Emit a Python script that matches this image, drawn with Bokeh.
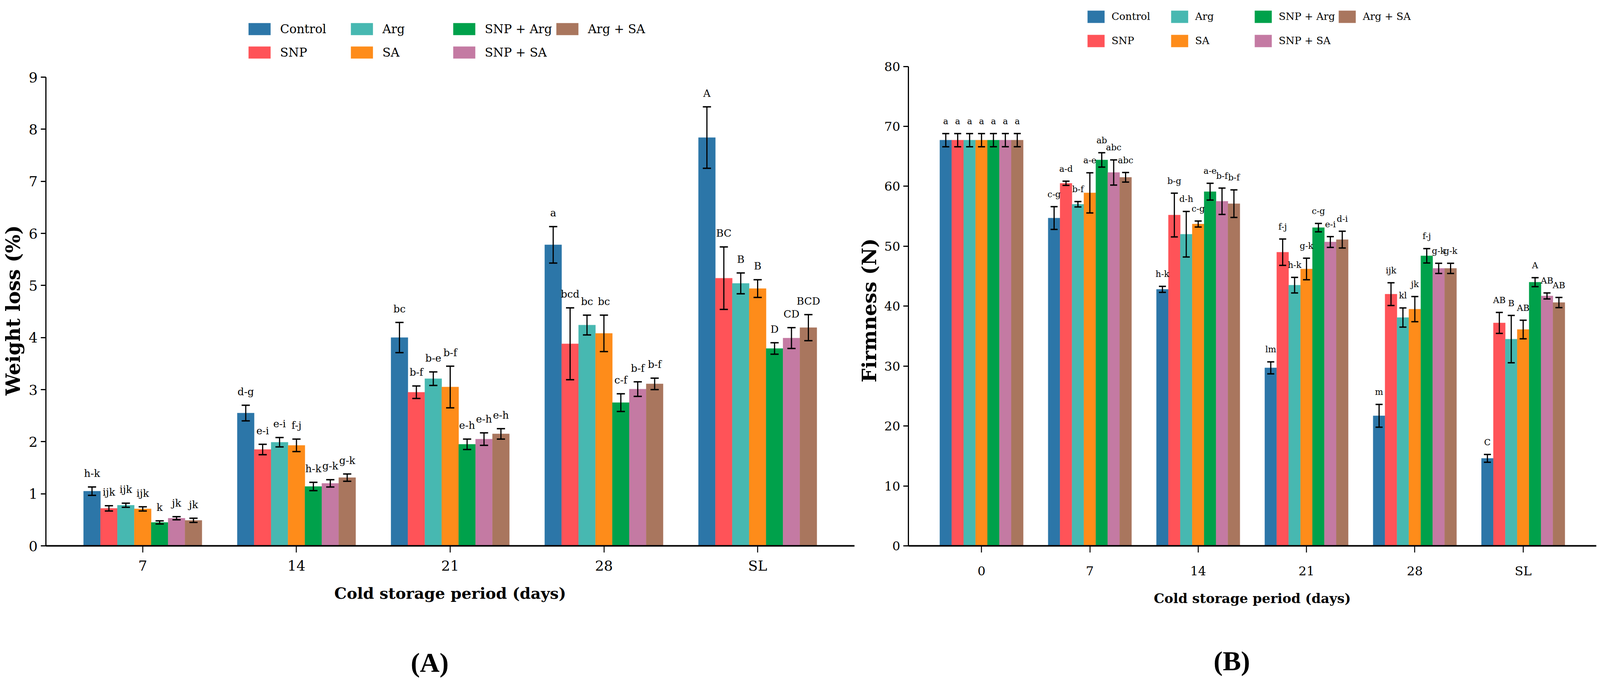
import numpy as np
from bokeh.plotting import figure
from bokeh.models import (Range1d, FixedTicker, Whisker, TeeHead, LabelSet, LinearAxis,
                          ColumnDataSource, Legend, LegendItem, GridBox)
from bokeh.embed import file_html
from bokeh.resources import INLINE
from bokeh.core.properties import value

treatments = ["Control", "SNP", "Arg", "SA", "SNP + Arg", "SNP + SA", "Arg + SA"]
colors = ["#2c76a8", "#ff5358", "#47b8b1", "#fe8c1a", "#00a14b", "#c47aa3", "#a9765e"]

# ---------------- Panel A: weight loss (%) ----------------
wl_days = ["7", "14", "21", "28", "SL"]
wl_control = [1.05, 2.55, 4.00, 5.78, 7.84]
wl_snp = [0.72, 1.85, 2.95, 3.88, 5.14]
wl_arg = [0.78, 1.99, 3.21, 4.24, 5.04]
wl_sa = [0.71, 1.93, 3.05, 4.08, 4.94]
wl_snp_arg = [0.45, 1.14, 1.95, 2.75, 3.79]
wl_snp_sa = [0.53, 1.20, 2.05, 3.01, 3.99]
wl_arg_sa = [0.49, 1.31, 2.15, 3.11, 4.19]

wl_control_err = [0.08, 0.15, 0.29, 0.35, 0.59]
wl_snp_err = [0.05, 0.10, 0.12, 0.69, 0.60]
wl_arg_err = [0.04, 0.09, 0.13, 0.19, 0.20]
wl_sa_err = [0.04, 0.12, 0.40, 0.35, 0.17]
wl_snp_arg_err = [0.03, 0.08, 0.10, 0.17, 0.11]
wl_snp_sa_err = [0.03, 0.07, 0.12, 0.14, 0.20]
wl_arg_sa_err = [0.04, 0.07, 0.10, 0.11, 0.25]

wl_control_lbl = ["h-k", "d-g", "bc", "a", "A"]
wl_snp_lbl = ["ijk", "e-i", "b-f", "bcd", "BC"]
wl_arg_lbl = ["ijk", "e-i", "b-e", "bc", "B"]
wl_sa_lbl = ["ijk", "f-j", "b-f", "bc", "B"]
wl_snp_arg_lbl = ["k", "h-k", "e-h", "c-f", "D"]
wl_snp_sa_lbl = ["jk", "g-k", "e-h", "b-f", "CD"]
wl_arg_sa_lbl = ["jk", "g-k", "e-h", "b-f", "BCD"]

# ---------------- Panel B: firmness (N) ----------------
fm_days = ["0", "7", "14", "21", "28", "SL"]
fm_control = [67.7, 54.7, 42.8, 29.7, 21.7, 14.6]
fm_snp = [67.7, 60.5, 55.2, 49.0, 42.0, 37.2]
fm_arg = [67.7, 57.0, 52.0, 43.5, 38.1, 34.5]
fm_sa = [67.7, 58.9, 53.7, 46.2, 39.5, 36.1]
fm_snp_arg = [67.7, 64.4, 59.1, 53.1, 48.4, 44.0]
fm_snp_sa = [67.7, 62.3, 57.5, 50.7, 46.3, 41.7]
fm_arg_sa = [67.7, 61.5, 57.1, 51.1, 46.3, 40.6]

fm_control_err = [1.1, 1.9, 0.5, 1.0, 1.9, 0.65]
fm_snp_err = [1.1, 0.35, 3.65, 2.2, 1.9, 1.75]
fm_arg_err = [1.1, 0.45, 3.8, 1.3, 1.6, 3.95]
fm_sa_err = [1.1, 3.35, 0.5, 1.8, 2.1, 1.55]
fm_snp_arg_err = [1.1, 1.2, 1.4, 0.7, 1.2, 0.75]
fm_snp_sa_err = [1.1, 2.1, 2.2, 0.9, 0.85, 0.5]
fm_arg_sa_err = [1.1, 0.8, 2.3, 1.4, 0.85, 0.85]

fm_control_lbl = ["a", "c-g", "h-k", "lm", "m", "C"]
fm_snp_lbl = ["a", "a-d", "b-g", "f-j", "ijk", "AB"]
fm_arg_lbl = ["a", "b-f", "d-h", "h-k", "kl", "B"]
fm_sa_lbl = ["a", "a-e", "c-g", "g-k", "jk", "AB"]
fm_snp_arg_lbl = ["a", "ab", "a-e", "c-g", "f-j", "A"]
fm_snp_sa_lbl = ["a", "abc", "b-f", "e-i", "g-k", "AB"]
fm_arg_sa_lbl = ["a", "abc", "b-f", "d-i", "g-k", "AB"]

BAR_W = 0.11
SERIF = "DejaVu Serif"
NB = "\u00a0"  # non-breaking pad used to nudge centred axis labels


def build_panel(cats, means, errs, lbls, ymax, ytop, yticks, height, borders,
                xpad, fonts, ytitle, cap, bar_lbl_off, leg_cfg,
                panel_txt, stands, pads):
    (tick_fs, lab_fs, xtitle_fs, ytitle_fs, panel_fs) = fonts
    (xtick_stand, xl_stand, yl_stand, panel_stand) = stands
    (ypad, tagpad) = pads
    n = len(cats)
    p = figure(height=height, sizing_mode="stretch_width", title=None,
               output_backend="svg", toolbar_location=None,
               x_range=Range1d(-xpad, n - 1 + xpad), y_range=Range1d(0, ytop),
               min_border_left=borders[0], min_border_right=borders[1],
               min_border_top=0, min_border_bottom=borders[2])
    p.outline_line_color = None
    p.grid.visible = False
    p.background_fill_color = "white"
    p.border_fill_color = "white"

    idx = np.arange(n)
    renderers = []
    for i, (m, e, l) in enumerate(zip(means, errs, lbls)):
        xs = idx + (i - 3) * BAR_W
        src = ColumnDataSource(dict(x=xs, top=m, lower=np.array(m) - np.array(e),
                                    upper=np.array(m) + np.array(e), lbl=l))
        r = p.vbar(x="x", top="top", width=BAR_W, source=src, fill_color=colors[i],
                   line_color=colors[i], line_width=0.5)
        renderers.append(r)
        w = Whisker(source=src, base="x", upper="upper", lower="lower",
                    line_color="black", line_width=3, level="annotation",
                    upper_head=TeeHead(size=cap, line_width=3.5, line_color="black"),
                    lower_head=TeeHead(size=cap, line_width=3.5, line_color="black"))
        p.add_layout(w)
        ls = LabelSet(x="x", y="upper", text="lbl", source=src, y_offset=bar_lbl_off,
                      text_align="center", text_baseline="alphabetic",
                      text_font=value(SERIF), text_font_size=f"{lab_fs}px",
                      text_color="black")
        p.add_layout(ls)

    # axes
    p.xaxis.ticker = FixedTicker(ticks=list(range(n)))
    p.xaxis.major_label_overrides = {i: c for i, c in enumerate(cats)}
    p.yaxis.ticker = FixedTicker(ticks=yticks)
    p.yaxis.bounds = (0, ymax)
    for ax in (p.xaxis, p.yaxis):
        ax.axis_line_color = "black"
        ax.major_tick_line_color = "black"
        ax.major_tick_in = 0
        ax.minor_tick_line_color = None
        ax.major_label_text_font = SERIF
        ax.major_label_text_font_size = f"{tick_fs}px"
        ax.major_label_text_color = "black"
        ax.axis_label_text_font = SERIF
        ax.axis_label_text_font_style = "bold"
        ax.axis_label_text_color = "black"
    p.xaxis.axis_line_width = 4
    p.yaxis.axis_line_width = 3
    p.xaxis.major_tick_line_width = 2.5
    p.yaxis.major_tick_line_width = 3
    p.xaxis.major_tick_out = 17
    p.yaxis.major_tick_out = 13
    p.xaxis.major_label_standoff = xtick_stand
    p.yaxis.major_label_standoff = 8
    p.xaxis.axis_label = "Cold storage period (days)"
    p.xaxis.axis_label_text_font_size = f"{xtitle_fs}px"
    p.xaxis.axis_label_standoff = xl_stand
    # the frame reaches the canvas top (legend lives there), so pad the title to
    # centre it on the 0..max part of the axis as in the reference
    p.yaxis.axis_label = ytitle + NB * ypad
    p.yaxis.axis_label_text_font_size = f"{ytitle_fs}px"
    p.yaxis.axis_label_standoff = yl_stand

    # panel tag "(A)" / "(B)" under the axis title, as the label of a bare axis
    tag = LinearAxis(ticker=FixedTicker(ticks=[]),
                     axis_line_color=None, major_tick_line_color=None,
                     minor_tick_line_color=None, major_tick_out=0, major_label_standoff=0,
                     major_label_text_font_size="0px",
                     axis_label=panel_txt + NB * tagpad, axis_label_standoff=panel_stand,
                     axis_label_text_font="Liberation Serif",
                     axis_label_text_font_style="bold",
                     axis_label_text_font_size=f"{panel_fs}px",
                     axis_label_text_color="black")
    p.add_layout(tag, "below")

    # legend: 2 rows x 4 columns, column-major like the reference, above the bars
    (margin, gw, gh, stand, fs, lh, lw, sp) = leg_cfg
    items = [LegendItem(label=t, renderers=[r]) for t, r in zip(treatments, renderers)]
    leg = Legend(items=items, location="top_center", orientation="vertical", nrows=2,
                 padding=0, margin=margin, spacing=sp, glyph_width=gw, glyph_height=gh,
                 label_standoff=stand, label_text_font=SERIF,
                 label_text_font_size=f"{fs}px", label_height=lh, label_width=lw,
                 label_text_color="black",
                 background_fill_alpha=0, border_line_color=None)
    p.add_layout(leg)
    return p


# y-range tops extend the frame up to the canvas top so the legend sits inside it;
# the y axes themselves stop at 9 and 80 (bounds)
pA = build_panel(
    wl_days,
    [wl_control, wl_snp, wl_arg, wl_sa, wl_snp_arg, wl_snp_sa, wl_arg_sa],
    [wl_control_err, wl_snp_err, wl_arg_err, wl_sa_err, wl_snp_arg_err, wl_snp_sa_err, wl_arg_sa_err],
    [wl_control_lbl, wl_snp_lbl, wl_arg_lbl, wl_sa_lbl, wl_snp_arg_lbl, wl_snp_sa_lbl, wl_arg_sa_lbl],
    9, 10.4775, list(range(0, 10)), 1748, (112, 4, 351), 0.63,
    (36, 26, 40, 50, 70), "Weight loss (%)", 21, 26,
    (46, 70, 38, 18, 31, 56, 170, 4),
    "(A)", (13, 23, 8, 113), (11, 6))

pB = build_panel(
    fm_days,
    [fm_control, fm_snp, fm_arg, fm_sa, fm_snp_arg, fm_snp_sa, fm_arg_sa],
    [fm_control_err, fm_snp_err, fm_arg_err, fm_sa_err, fm_snp_arg_err, fm_snp_sa_err, fm_arg_sa_err],
    [fm_control_lbl, fm_snp_lbl, fm_arg_lbl, fm_sa_lbl, fm_snp_arg_lbl, fm_snp_sa_lbl, fm_arg_sa_lbl],
    80, 91.05, list(range(0, 81, 10)), 1748, (126, 10, 351), 0.675,
    (32, 22, 34, 50, 70), "Firmness (N)", 18, 24,
    (13, 54, 39, 13, 26, 58, 143, 4),
    "(B)", (28, 28, 6, 99), (11, 6))

layout = GridBox(children=[(pA, 0, 0), (pB, 0, 1)],
                 cols={0: "2183fr", 1: "1897fr"}, sizing_mode="stretch_width")
open("out.html", "w").write(file_html(layout, INLINE))
